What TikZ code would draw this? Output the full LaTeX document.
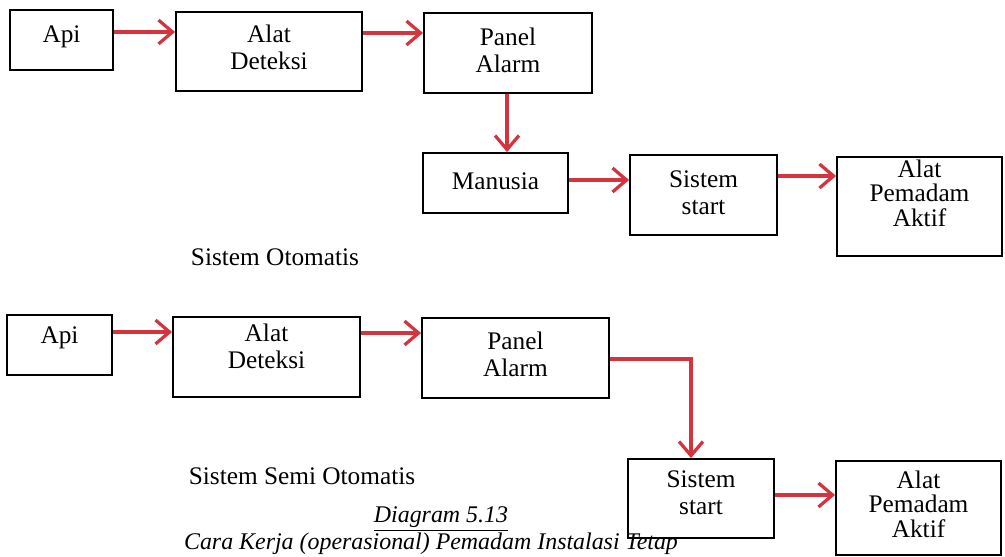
\documentclass[tikz,border=0pt]{standalone}
\usepackage{fontspec}
\setmainfont{Liberation Serif}
\usetikzlibrary{arrows.meta}
\definecolor{arrred}{RGB}{212,52,62}
\tikzset{
  box/.style={draw, line width=1.3pt, inner sep=0pt},
  arr/.style={arrred, line width=2.3pt, -{Straight Barb[length=10pt,width=17pt,line width=2.3pt]}},
  every node/.style={align=center, font=\fontsize{18}{19}\selectfont}
}
\begin{document}
\begin{tikzpicture}[x=0.025cm,y=-0.025cm]
        \useasboundingbox (0,0) rectangle (1005,557);

        % Boxes for automatic system
        \node[box, minimum width=2.575cm, minimum height=1.5cm] (ApiA) at (61.5,40) {};
        \node[box, minimum width=4.65cm, minimum height=1.975cm] (AlatA) at (269,51.5) {};
        \node[box, minimum width=4.2cm, minimum height=2cm] (PanelA) at (508,53) {};
        \node[box, minimum width=3.625cm, minimum height=1.5cm] (ManusiaA) at (495.5,183) {};
        \node[box, minimum width=3.675cm, minimum height=2cm] (SistemA) at (703.5,195) {};
        \node[box, minimum width=4.125cm, minimum height=2.475cm] (PemadamA) at (919.5,206.5) {};

        % Texts for automatic system
        \node (ApiAt) at (61.5,37) {Api};
        \node (AlatAt) at (269,47) {Alat\\Deteksi};
        \node (PanelAt) at (508,50) {Panel\\Alarm};
        \node (ManusiaAt) at (495.5,181) {Manusia};
        \node (SistemAt) at (703.5,193) {Sistem\\start};
        \node[font=\fontsize{18}{17.5}\selectfont] (PemadamAt) at (919.5,193) {Alat\\Pemadam\\Aktif};
        \node (OtoA) at (275,257) {Sistem Otomatis};

        % Boxes for semi automatic system
        \node[box, minimum width=2.625cm, minimum height=1.5cm] (ApiB) at (59.5,345) {};
        \node[box, minimum width=4.675cm, minimum height=2cm] (AlatB) at (266.5,357) {};
        \node[box, minimum width=4.675cm, minimum height=2cm] (PanelB) at (515.5,358) {};
        \node[box, minimum width=3.65cm, minimum height=1.975cm] (SistemB) at (701,498.5) {};
        \node[box, minimum width=4.125cm, minimum height=2.35cm] (PemadamB) at (918.5,508) {};

        % Texts for semi automatic system
        \node (ApiBt) at (59.5,338) {Api};
        \node (AlatBt) at (266.5,346) {Alat\\Deteksi};
        \node (PanelBt) at (515.5,354) {Panel\\Alarm};
        \node (SistemBt) at (701,493) {Sistem\\start};
        \node[font=\fontsize{18}{17.5}\selectfont] (PemadamBt) at (918.5,504) {Alat\\Pemadam\\Aktif};
        \node (OtoB) at (302,476) {Sistem Semi Otomatis};

        % Caption
        \node[font=\fontsize{17}{19}\selectfont\itshape] (Judul) at (441,519) {\underline{Diagram 5.13}};
        \node[font=\fontsize{17}{19}\selectfont\itshape] (Sub) at (431,544) {Cara Kerja (operasional) Pemadam Instalasi Tetap};

        % Flow, automatic
        \draw[arr] (ApiA.east |- 0,32) -- (AlatA.west |- 0,32);
        \draw[arr] (AlatA.east |- 0,33) -- (PanelA.west |- 0,33);
        \draw[arr] (PanelA.south -| 507,0) -- (ManusiaA.north -| 507,0);
        \draw[arr] (ManusiaA.east |- 0,180) -- (SistemA.west |- 0,180);
        \draw[arr] (SistemA.east |- 0,176) -- (PemadamA.west |- 0,176);

        % Flow, semi automatic
        \draw[arr] (ApiB.east |- 0,332) -- (AlatB.west |- 0,332);
        \draw[arr] (AlatB.east |- 0,333) -- (PanelB.west |- 0,333);
        \draw[arr] (PanelB.east |- 0,359) -| (SistemB.north -| 691,0);
        \draw[arr] (SistemB.east |- 0,495) -- (PemadamB.west |- 0,495);

\end{tikzpicture}
\end{document}
